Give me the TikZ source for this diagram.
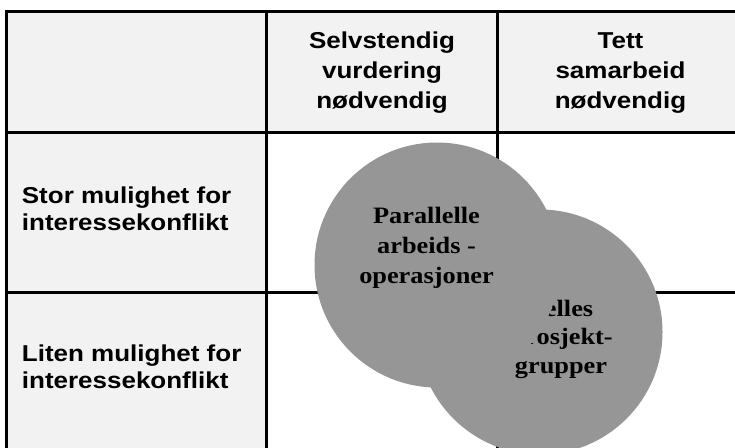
\documentclass[tikz,border=0pt]{standalone}
\usepackage{fontspec}
\newfontfamily\labelfont{Liberation Sans}[FakeStretch=1.13]
\newfontfamily\bubblefont{Liberation Serif}[FakeStretch=1.12]
\definecolor{cellgray}{RGB}{242,242,242}
\definecolor{bubblegray}{RGB}{150,150,150}

\begin{document}
\begin{tikzpicture}[x=1pt,y=-1pt,
  rule/.style={line width=3pt},
  headtext/.style={font=\labelfont\bfseries\fontsize{23}{30}\selectfont,
    align=center, anchor=base, inner sep=0pt},
  rowtext/.style={font=\labelfont\bfseries\fontsize{23}{27}\selectfont,
    align=left, anchor=base west, inner sep=0pt},
  bubble/.style={circle, fill=bubblegray, minimum size=245pt, inner sep=0pt},
  bubbletext/.style={font=\bubblefont\bfseries\fontsize{23.5}{#1}\selectfont,
    align=center, anchor=base, inner sep=0pt},
  bubbletext/.default=30]

\clip (0,0) rectangle (735,447);

% shaded header row and label column
\fill[cellgray] (6.5,11) rectangle (745,132);
\fill[cellgray] (6.5,132) rectangle (266.5,450);

% table rules
\draw[rule] (5,11) -- (745,11);
\draw[rule] (6.5,9.5) -- (6.5,450);
\draw[rule] (266.5,11) -- (266.5,450);
\draw[rule] (497.5,11) -- (497.5,450);
\draw[rule] (6.5,132) -- (745,132);
\draw[rule] (6.5,292) -- (745,292);

% column headings (positioned by the baseline of their last line)
\node[headtext] (colA) at (382,108.3) {Selvstendig\\vurdering\\nødvendig};
\node[headtext] (colB) at (620.5,108.3) {Tett\\samarbeid\\nødvendig};

% row headings
\node[rowtext] (rowA) at (21.7,230) {Stor mulighet for\\interessekonflikt};
\node[rowtext] (rowB) at (21.7,388) {Liten mulighet for\\interessekonflikt};

% lower bubble with its label, partly covered by the upper bubble
\node[bubble] (felles) at (540,332) {};
\node[bubbletext=28.3] (fellesText) at (561,373) {Felles\\Prosjekt-\\grupper};

% upper bubble
\node[bubble] (parallell) at (437,265) {};
\node[bubbletext] (parallellText) at (426.5,283.3) {Parallelle\\arbeids -\\operasjoner};
\end{tikzpicture}
\end{document}
